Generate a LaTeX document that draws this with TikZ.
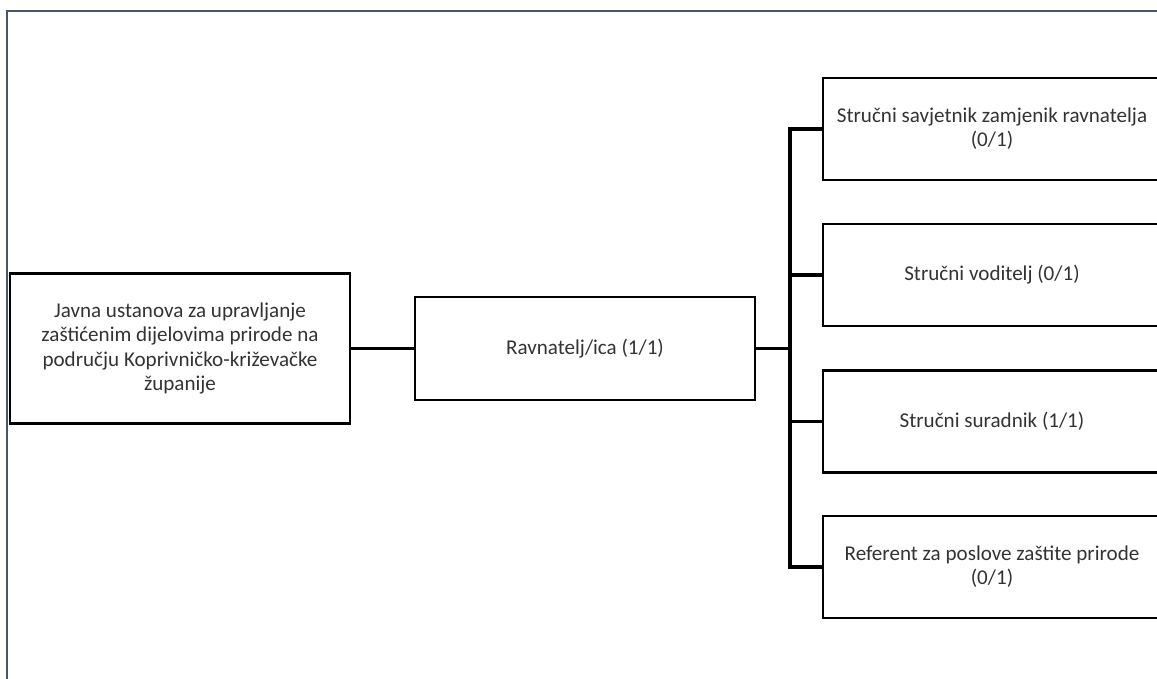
\documentclass[tikz,border=0pt]{standalone}
\usepackage{fontspec}
\setmainfont{Carlito}
\usepackage{tikz}
\definecolor{okvir}{HTML}{4B5565}
\definecolor{tekst}{HTML}{333333}
\tikzset{
	kutija/.style={draw, line width=1.4pt, align=center, text=tekst, inner sep=0pt, font=\fontsize{12}{13.8}\selectfont},
	spoj/.style={line width=1.2pt},
	sabirnica/.style={line width=2pt}
}

\begin{document}
\begin{tikzpicture}[x=0.02cm, y=-0.02cm]
			%%%%% START %%%%%
			
			\useasboundingbox (0, 0) rectangle (1157, 679);
			\clip (0, 0) rectangle (1157, 679);
			
			\draw[line width=1.4pt, color=okvir] (7, 690) -- (7, 11) -- (1170, 11);
			
			\node[kutija, minimum width=6.8cm, minimum height=3cm] (ustanova) at (180, 348.5) {Javna ustanova za upravljanje\\zaštićenim dijelovima prirode na\\području Koprivničko-križevačke\\županije};
			\node[kutija, minimum width=6.8cm, minimum height=2.06cm] (ravnatelj) at (585, 348.5) {Ravnatelj/ica (1/1)};
			
			\node[kutija, minimum width=6.76cm, minimum height=2.04cm] (savjetnik) at (992, 129) {Stručni savjetnik zamjenik ravnatelja\\(0/1)};
			\node[kutija, minimum width=6.76cm, minimum height=2.04cm] (voditelj) at (992, 275) {Stručni voditelj (0/1)};
			\node[kutija, minimum width=6.76cm, minimum height=2.04cm] (suradnik) at (992, 421.5) {Stručni suradnik (1/1)};
			\node[kutija, minimum width=6.76cm, minimum height=2.04cm] (referent) at (992, 567) {Referent za poslove zaštite prirode\\(0/1)};
			
			\coordinate (sabir) at (790, 348.5);
			
			\draw[spoj] (ustanova.east) -- (ravnatelj.west);
			\draw[sabirnica] (ravnatelj.east) -- (sabir);
			\draw[sabirnica] (savjetnik.west) -| (sabir) |- (referent.west);
			\draw[sabirnica] (voditelj.west) -- (voditelj.west -| sabir);
			\draw[sabirnica] (suradnik.west) -- (suradnik.west -| sabir);
			
			%%%%% END %%%%%
		\end{tikzpicture}
\end{document}
